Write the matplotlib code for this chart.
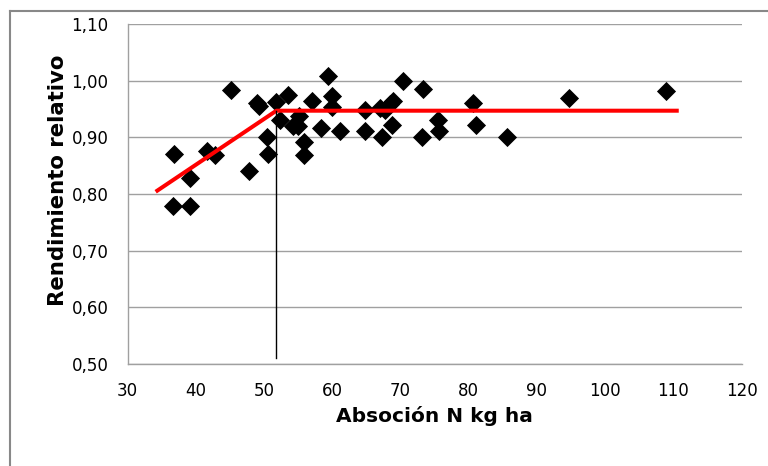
import matplotlib
matplotlib.use("Agg")
import matplotlib.pyplot as plt
from matplotlib.lines import Line2D

plt.rcParams['font.family'] = ['DejaVu Sans']

# absorcion N (kg/ha) vs rendimiento relativo
absorcion = [36.6, 39.1, 36.8, 39.1, 41.7, 42.8, 45.2, 47.8, 49.0, 49.3,
             50.4, 50.5, 51.8, 52.3, 53.5, 54.2, 55.0, 55.1, 55.9, 55.8,
             57.0, 58.3, 59.4, 60.0, 60.0, 61.1, 64.8, 64.8, 67.0, 67.8,
             68.9, 68.5, 68.7, 67.3, 70.3, 73.3, 73.2, 75.5, 75.6, 80.6,
             81.1, 85.6, 94.7, 109.0]
rendimiento = [0.779, 0.779, 0.870, 0.829, 0.876, 0.869, 0.984, 0.841, 0.960, 0.956,
               0.900, 0.870, 0.962, 0.931, 0.975, 0.920, 0.920, 0.938, 0.892, 0.869,
               0.965, 0.917, 1.008, 0.973, 0.954, 0.911, 0.949, 0.912, 0.952, 0.949,
               0.965, 0.958, 0.921, 0.900, 1.000, 0.985, 0.900, 0.931, 0.911, 0.961,
               0.921, 0.900, 0.970, 0.981]

# modelo lineal-plateau
modelo_x = [34.1, 51.8, 110.8]
modelo_y = [0.804, 0.947, 0.947]
quiebre_x = 51.8
quiebre_y = [0.51, 0.947]

xticks = list(range(30, 121, 10))
yticks = [0.5, 0.6, 0.7, 0.8, 0.9, 1.0, 1.1]

fig = plt.figure(figsize=(7.68, 4.66), dpi=100)
ax = fig.add_axes([127.7 / 768, 1 - 364 / 466, (741.5 - 127.7) / 768, (364 - 24) / 466])

ax.scatter(absorcion, rendimiento, marker='D', s=95, color='black', zorder=3, linewidths=0)
ax.plot(modelo_x, modelo_y, color='#ff0000', lw=2.9, zorder=4, solid_capstyle='butt')
ax.plot([quiebre_x, quiebre_x], quiebre_y, color='black', lw=1.0, zorder=4)

ax.set_xlim(30, 120)
ax.set_ylim(0.5, 1.1)
ax.set_xticks(xticks)
ax.set_yticks(yticks)
ax.set_yticklabels([f"{v:.2f}".replace('.', ',') for v in yticks])
ax.yaxis.grid(True, color='#a0a0a0', lw=1.0)
ax.set_axisbelow(True)
for s in ['top', 'right']:
    ax.spines[s].set_visible(False)
for s in ['left', 'bottom']:
    ax.spines[s].set_color('#a0a0a0')
    ax.spines[s].set_linewidth(1.0)
ax.tick_params(length=0, labelsize=12)
ax.tick_params(axis='y', pad=14)
ax.tick_params(axis='x', pad=13)

ax.set_xlabel('Absoción N kg ha', fontsize=14.5, fontweight='bold')
ax.set_ylabel('Rendimiento relativo', fontsize=15.3, fontweight='bold')
ax.xaxis.set_label_coords(0.499, -0.1235)
ax.yaxis.set_label_coords(-0.0977, 0.541)

# marco exterior
fig.add_artist(Line2D([10 / 768, 10 / 768], [0, 1 - 11 / 466], color='#888888', lw=1.5))
fig.add_artist(Line2D([10 / 768, 1], [1 - 11 / 466, 1 - 11 / 466], color='#888888', lw=1.5))

fig.savefig('out.png', dpi=100)
